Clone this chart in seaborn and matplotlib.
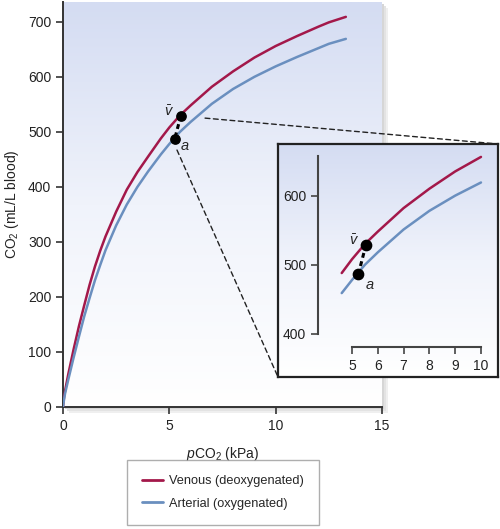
import numpy as np
import pandas as pd
import seaborn as sns
import matplotlib.pyplot as plt
from matplotlib.colors import LinearSegmentedColormap
from matplotlib.patches import ConnectionPatch, Rectangle

# CO2 dissociation curves (pCO2 in kPa, CO2 in mL/L blood)
pco2 = [0, 0.05, 0.1, 0.25, 0.5, 0.75, 1.0, 1.25, 1.5, 1.75, 2.0, 2.5, 3.0,
        3.5, 4.0, 4.6, 5.0, 5.5, 6.0, 7.0, 8.0, 9.0, 10.0, 11.0, 12.0, 12.5, 13.3]
venous = [0, 18, 30, 60, 105, 147, 185, 222, 255, 284, 310, 355, 395,
          427, 455, 488, 508, 530, 548, 582, 610, 635, 656, 674, 691, 699, 709]
arterial = [0, 14, 25, 50, 90, 128, 165, 198, 230, 258, 285, 330, 368,
            400, 428, 459, 478, 500, 518, 551, 578, 600, 619, 636, 652, 660, 669]

series_names = ['Venous (deoxygenated)', 'Arterial (oxygenated)']
series_colors = ['#a3184a', '#6a8fbf']

# mixed venous (v) and arterial (a) points
point_x = [5.54, 5.25]
point_y = [529, 487]
point_labels = ['$\\bar{v}$', '$a$']

main_xticks = [0, 5, 10, 15]
main_yticks = [0, 100, 200, 300, 400, 500, 600, 700]
inset_xticks = [5, 6, 7, 8, 9, 10]
inset_yticks = [400, 500, 600]

df = pd.DataFrame({
    'pCO2': pco2 * 2,
    'CO2': venous + arterial,
    'curve': [series_names[0]] * len(pco2) + [series_names[1]] * len(pco2),
})
df_inset = df[(df['pCO2'] >= 4.6) & (df['pCO2'] <= 10)]

sns.set_style('ticks')
plt.rcParams['font.family'] = ['Liberation Sans', 'DejaVu Sans']
plt.rcParams['mathtext.fontset'] = 'custom'
plt.rcParams['mathtext.rm'] = 'Liberation Sans'
plt.rcParams['mathtext.it'] = 'Liberation Sans:italic'

W, H = 500, 529
fig = plt.figure(figsize=(W / 100, H / 100), dpi=100)
fig.patch.set_facecolor('white')


def frac(x0, y0, x1, y1):
    # pixel box (top-left origin) -> figure fraction rect
    return [x0 / W, (H - y1) / H, (x1 - x0) / W, (y1 - y0) / H]


grad = LinearSegmentedColormap.from_list('bg', ['#ffffff', '#f0f3fb', '#d4dcf2'])
grad_img = np.linspace(0, 1, 256).reshape(-1, 1)

# soft shadow behind main panel
for i, c in enumerate(['#efefef', '#e3e3e3', '#d6d6d6']):
    off = 6 - 2 * i
    r = frac(63 + off, 2 + off, 382 + off, 407 + off)
    fig.patches.append(Rectangle((r[0], r[1]), r[2], r[3], transform=fig.transFigure,
                                 facecolor=c, edgecolor='none', zorder=-5))

ax = fig.add_axes(frac(63, 2, 382, 407))
ax.imshow(grad_img, extent=[0, 15, 0, 736], aspect='auto', cmap=grad,
          origin='lower', zorder=0)
sns.lineplot(data=df, x='pCO2', y='CO2', hue='curve', hue_order=series_names,
             palette=series_colors, linewidth=1.8, ax=ax, zorder=3, legend=True,
             estimator=None, sort=True)
ax.set_xlim(0, 15)
ax.set_ylim(0, 736)
ax.set_xticks(main_xticks)
ax.set_yticks(main_yticks)
for s in ['top', 'right']:
    ax.spines[s].set_visible(False)
for s in ['left', 'bottom']:
    ax.spines[s].set_color('#333333')
    ax.spines[s].set_linewidth(1.4)
ax.tick_params(labelsize=10, length=5, width=1.2, color='#333333', labelcolor='#222222')
ax.set_xlabel('$p$CO$_2$ (kPa)', fontsize=10, labelpad=9, color='#222222')
ax.set_ylabel('CO$_2$ (mL/L blood)', fontsize=10, labelpad=5, color='#222222')
handles, labels = ax.get_legend_handles_labels()
ax.get_legend().remove()

ax.plot(point_x, point_y, color='black', ls=(0, (1.6, 1.2)), lw=2.2, zorder=4)
ax.scatter(point_x, point_y, s=45, color='black', zorder=5)
ax.annotate(point_labels[0], (point_x[0], point_y[0]), xytext=(-5, 3),
            textcoords='offset points', ha='right', va='center', fontsize=10.5)
ax.annotate(point_labels[1], (point_x[1], point_y[1]), xytext=(4, -5),
            textcoords='offset points', ha='left', va='center', fontsize=10.5)

# inset frame
box = fig.add_axes(frac(278, 144, 498, 377))
box.imshow(grad_img, extent=[0, 1, 0, 1], aspect='auto', cmap=grad, origin='lower')
box.set_xlim(0, 1)
box.set_ylim(0, 1)
box.set_xticks([])
box.set_yticks([])
for s in box.spines.values():
    s.set_color('#222222')
    s.set_linewidth(1.6)

# inset data axes
ins = fig.add_axes(frac(318, 150, 490, 347))
ins.patch.set_alpha(0)
sns.lineplot(data=df_inset, x='pCO2', y='CO2', hue='curve', hue_order=series_names,
             palette=series_colors, linewidth=1.8, ax=ins, legend=False,
             estimator=None, sort=True)
ins.set_xlim(3.68, 10.35)
ins.set_ylim(381, 666)
ins.set_xticks(inset_xticks)
ins.set_yticks(inset_yticks)
for s in ['top', 'right']:
    ins.spines[s].set_visible(False)
ins.spines['left'].set_bounds(400, 657)
ins.spines['bottom'].set_bounds(5, 10)
for s in ['left', 'bottom']:
    ins.spines[s].set_color('#444444')
    ins.spines[s].set_linewidth(1.5)
ins.tick_params(labelsize=10, length=5, width=1.2, color='#444444', labelcolor='#222222')
ins.set_xlabel('')
ins.set_ylabel('')
ins.plot(point_x, point_y, color='black', ls=(0, (1.6, 1.2)), lw=2.2, zorder=4)
ins.scatter(point_x, point_y, s=55, color='black', zorder=5)
ins.annotate(point_labels[0], (point_x[0], point_y[0]), xytext=(-5, 3),
             textcoords='offset points', ha='right', va='center', fontsize=10.5)
ins.annotate(point_labels[1], (point_x[1], point_y[1]), xytext=(5, -8),
             textcoords='offset points', ha='left', va='center', fontsize=10.5)

# dashed zoom connectors
for xy, corner in [((6.68, 525), (1, 1)), ((5.36, 467), (0, 0))]:
    con = ConnectionPatch(xyA=xy, coordsA=ax.transData, xyB=corner,
                          coordsB=box.transAxes, color='#222222', lw=1.0,
                          ls=(0, (3.5, 2.5)), zorder=2)
    fig.add_artist(con)

leg = fig.legend(handles, labels, loc='upper left',
                 bbox_to_anchor=(127 / W, 1 - 460 / H), fontsize=9.2,
                 frameon=True, fancybox=False, edgecolor='#9a9a9a',
                 handlelength=1.6, handletextpad=0.5, borderpad=1.2,
                 labelspacing=0.8, borderaxespad=0)
leg.get_frame().set_linewidth(1.0)
for h in leg.legend_handles:
    h.set_linewidth(2.0)

fig.savefig('out.png', dpi=100)
